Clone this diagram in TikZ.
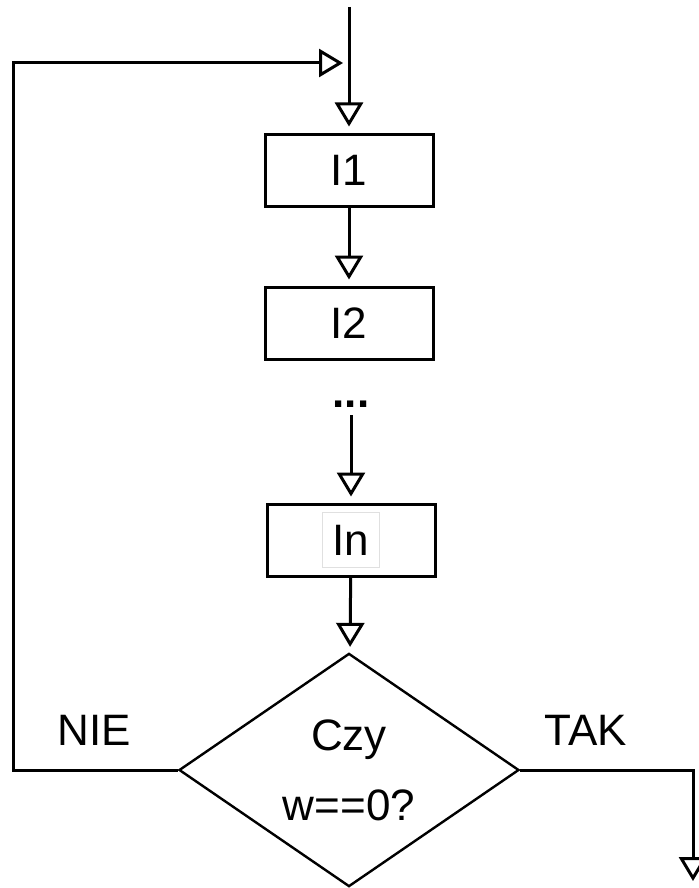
\documentclass[tikz,border=0pt]{standalone}
\usepackage{fontspec}
\setmainfont{Liberation Sans}
\usetikzlibrary{arrows.meta,shapes.geometric}

\begin{document}
\begin{tikzpicture}[x=0.5pt,y=-0.5pt,line width=1.5pt,
    font=\fontsize{22}{35}\selectfont,
    instr/.style={draw,rectangle,minimum width=84pt,minimum height=36pt,inner sep=0pt},
    flow/.style={-{Triangle[open,length=12pt,width=14pt]},shorten >=3pt},
    decision/.style={draw,diamond,minimum width=170pt,minimum height=115.5pt,
        inner sep=0pt,align=center,line width=1.2pt}]
    \useasboundingbox (0,0) rectangle (699,888);

    % loop body
    \coordinate (start) at (349,7);
    \node[instr] (I1) at (349,170) {I1};
    \node[instr] (I2) at (349,323) {I2};
    \node[anchor=base,font=\fontsize{22}{35}\selectfont\bfseries] (dots) at (351,407) {...};
    \node[instr] (In) at (351,540) {};
    \node[draw=black!12,line width=0.4pt,minimum width=28.5pt,minimum height=27.5pt,inner sep=0pt] (Intext) at (In) {In};

    % condition
    \node[decision] (dec) at (349,770) {Czy\\w==0?};
    \node[anchor=base] (nie) at (94,745) {NIE};
    \node[anchor=base] (tak) at (586,745) {TAK};

    \draw[flow] (start) -- (I1);
    \draw[flow] (I1) -- (I2);
    \draw[flow] (dots) -- (In);
    \draw[flow] (In) -- (dec);

    % back edge and exit
    \coordinate (loop) at (13,63);
    \coordinate (join) at (349,63);
    \draw[flow] (dec.west) -| (loop) -- (join);
    \coordinate (exit) at (693,887);
    \draw[flow] (dec.east) -| (exit);
\end{tikzpicture}
\end{document}
